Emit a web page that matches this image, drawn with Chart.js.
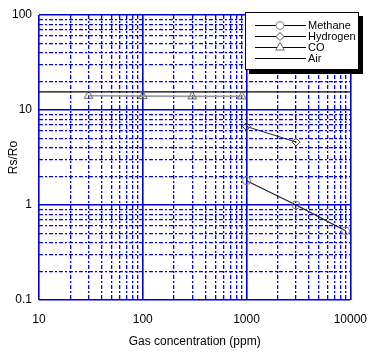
<!DOCTYPE html>
<html>
<head>
<meta charset="utf-8">
<script src="https://cdn.jsdelivr.net/npm/chart.js@4.4.1/dist/chart.umd.min.js"></script>
<style>
  html, body { margin: 0; padding: 0; background: #fff; }
  #wrap { width: 379px; height: 352px; }
</style>
</head>
<body>
<div id="wrap"><canvas id="c" width="379" height="352"></canvas></div>
<script>
// ---- data ----
const seriesNames = ['Methane', 'Hydrogen', 'CO', 'Air'];
const methaneX = [1000, 3000, 9000];
const methaneY = [1.8, 1.0, 0.535];
const hydrogenX = [1000, 3000];
const hydrogenY = [6.7, 4.6];
const coX = [30, 100, 300, 900];
const coY = [14.1, 14.0, 13.9, 13.9];
const airX = [10, 10000];
const airY = [15.5, 15.5];
const xTickLabels = ['10', '100', '1000', '10000'];
const yTickLabels = ['0.1', '1', '10', '100'];
const xTitle = 'Gas concentration (ppm)';
const yTitle = 'Rs/Ro';

const pts = (xs, ys) => xs.map((x, i) => ({ x: x, y: ys[i] }));
const FONT = "'Liberation Sans', Arial, sans-serif";
const MAJOR = '#0000cc';
const MINOR = '#0000ff';

// decade tick helpers (grid positions only)
const decadeTicks = labels => {
  const out = [];
  const decs = labels.map(parseFloat);
  decs.forEach((d, i) => {
    out.push({ value: d, major: true });
    if (i < decs.length - 1) for (let k = 2; k <= 9; k++) out.push({ value: +(d * k).toPrecision(6), major: false });
  });
  return out;
};
const labelFor = (v, list) => {
  const s = list.find(t => Math.abs(parseFloat(t) - v) < 1e-9 * Math.max(1, v));
  return s === undefined ? '' : s;
};

const datasets = [
  { label: seriesNames[0], data: pts(methaneX, methaneY), borderColor: '#222', borderWidth: 1.2,
    pointStyle: 'circle', pointRadius: 4, pointBorderColor: '#808080', pointBackgroundColor: 'rgba(0,0,0,0)', pointBorderWidth: 1 },
  { label: seriesNames[1], data: pts(hydrogenX, hydrogenY), borderColor: '#222', borderWidth: 1,
    pointStyle: 'rectRot', pointRadius: 4, pointBorderColor: '#444', pointBackgroundColor: 'rgba(0,0,0,0)', pointBorderWidth: 1 },
  { label: seriesNames[2], data: pts(coX, coY), borderColor: '#9a9a9a', borderWidth: 1.6,
    pointStyle: 'triangle', pointRadius: 5, pointBorderColor: '#666', pointBackgroundColor: 'rgba(0,0,0,0)', pointBorderWidth: 1 },
  { label: seriesNames[3], data: pts(airX, airY), borderColor: '#000', borderWidth: 1.2,
    pointRadius: 0, pointStyle: false }
];

const legendPlugin = {
  id: 'boxLegend',
  afterDraw(chart) {
    const ctx = chart.ctx;
    const L = 245, T = 12, W = 114, H = 58, S = 4;
    ctx.save();
    ctx.setLineDash([]);
    ctx.fillStyle = '#000';
    ctx.fillRect(L + S, T + S, W, H);
    ctx.fillStyle = '#fff';
    ctx.fillRect(L, T, W, H);
    ctx.strokeStyle = '#000';
    ctx.lineWidth = 1;
    ctx.strokeRect(L + 0.5, T + 0.5, W - 1, H - 1);
    const rows = [25.5, 36.5, 47.5, 58.5];
    chart.data.datasets.forEach((ds, i) => {
      const y = rows[i];
      ctx.strokeStyle = '#000';
      ctx.lineWidth = 1;
      ctx.beginPath();
      ctx.moveTo(255, y); ctx.lineTo(306, y);
      ctx.stroke();
      if (ds.pointStyle) {
        ctx.fillStyle = '#fff';
        ctx.strokeStyle = ds.pointBorderColor;
        ctx.lineWidth = 1;
        Chart.helpers.drawPoint(ctx, {
          pointStyle: ds.pointStyle, radius: ds.pointRadius, rotation: 0, borderWidth: 1
        }, 280, y);
      }
      ctx.fillStyle = '#000';
      ctx.font = '11px ' + FONT;
      ctx.textAlign = 'left';
      ctx.textBaseline = 'middle';
      ctx.fillText(ds.label, 308, y + 0.5);
    });
    ctx.restore();
  }
};

const minorGrid = {
  color: c => (c.tick && c.tick.major) ? 'rgba(0,0,0,0)' : MINOR,
  lineWidth: 1.3, drawTicks: false
};
const majorGrid = {
  color: c => (c.tick && c.tick.major) ? MAJOR : 'rgba(0,0,0,0)',
  lineWidth: 1.6, drawTicks: false
};
const dash = [4, 2, 2, 2];

new Chart(document.getElementById('c'), {
  type: 'line',
  data: { datasets: datasets },
  options: {
    responsive: false,
    animation: false,
    devicePixelRatio: 1,
    layout: { padding: 0 },
    plugins: { legend: { display: false }, tooltip: { enabled: false } },
    scales: {
      x: {
        type: 'logarithmic', position: 'bottom', min: 10, max: 10000,
        grid: minorGrid,
        border: { display: false, dash: dash },
        afterBuildTicks: s => { s.ticks = decadeTicks(xTickLabels); },
        ticks: { autoSkip: false, maxRotation: 0, padding: 12, color: '#000',
          font: { family: FONT, size: 12 },
          callback: v => labelFor(v, xTickLabels) },
        title: { display: true, text: xTitle, color: '#000', font: { family: FONT, size: 12 }, padding: { top: 0, bottom: 3 } },
        afterFit: s => { s.height = 52; }
      },
      x2: {
        type: 'logarithmic', position: 'top', min: 10, max: 10000,
        grid: majorGrid,
        border: { display: false },
        afterBuildTicks: s => { s.ticks = decadeTicks(xTickLabels); },
        ticks: { display: false },
        afterFit: s => { s.height = 15; }
      },
      y: {
        type: 'logarithmic', position: 'left', min: 0.1, max: 100,
        grid: minorGrid,
        border: { display: false, dash: dash },
        afterBuildTicks: s => { s.ticks = decadeTicks(yTickLabels); },
        ticks: { autoSkip: false, padding: 7, color: '#000',
          font: { family: FONT, size: 12 },
          callback: v => labelFor(v, yTickLabels) },
        title: { display: true, text: yTitle, color: '#000', font: { family: FONT, size: 12 }, padding: { top: 6, bottom: 0 } },
        afterFit: s => { s.width = 39; }
      },
      y2: {
        type: 'logarithmic', position: 'right', min: 0.1, max: 100,
        grid: majorGrid,
        border: { display: false },
        afterBuildTicks: s => { s.ticks = decadeTicks(yTickLabels); },
        ticks: { display: false },
        afterFit: s => { s.width = 26; }
      }
    }
  },
  plugins: [legendPlugin]
});
</script>
</body>
</html>
